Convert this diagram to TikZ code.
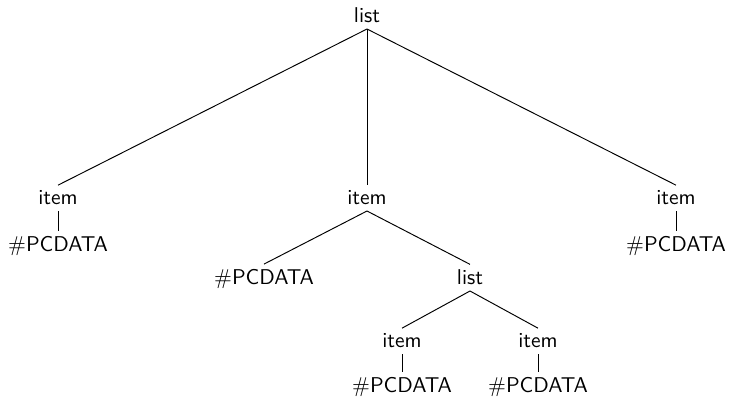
\documentclass[tikz,border=0pt]{standalone}
\usetikzlibrary{positioning}
\tikzset{every node/.style={font=\sffamily, anchor=base, inner sep=2.5pt},
         edge/.style={black, line width=0.45pt}}

\begin{document}
\begin{tikzpicture}[x=0.467pt,y=-0.467pt]
   \useasboundingbox (0,0) rectangle (729,397);
   % top level
   \node (list) at (367,23) {list};
   \node (itemA) at (58,205) {item};
   \node (itemB) at (367,205) {item};
   \node (itemC) at (676,205) {item};
   \node (dataA) at (58,252) {\#PCDATA};
   \node (dataC) at (676,252) {\#PCDATA};
   % middle branch
   \node (dataB) at (264,285) {\#PCDATA};
   \node (sublist) at (470,285) {list};
   \node (itemD) at (402,348) {item};
   \node (itemE) at (538,348) {item};
   \node (dataD) at (402,393) {\#PCDATA};
   \node (dataE) at (538,393) {\#PCDATA};
   % edges
   \draw[edge] (list.south) -- (itemA.north);
   \draw[edge] (list.south) -- (itemB.north);
   \draw[edge] (list.south) -- (itemC.north);
   \draw[edge] (itemA.south) -- (dataA.north);
   \draw[edge] (itemC.south) -- (dataC.north);
   \draw[edge] (itemB.south) -- (dataB.north);
   \draw[edge] (itemB.south) -- (sublist.north);
   \draw[edge] (sublist.south) -- (itemD.north);
   \draw[edge] (sublist.south) -- (itemE.north);
   \draw[edge] (itemD.south) -- (dataD.north);
   \draw[edge] (itemE.south) -- (dataE.north);
\end{tikzpicture}
\end{document}
